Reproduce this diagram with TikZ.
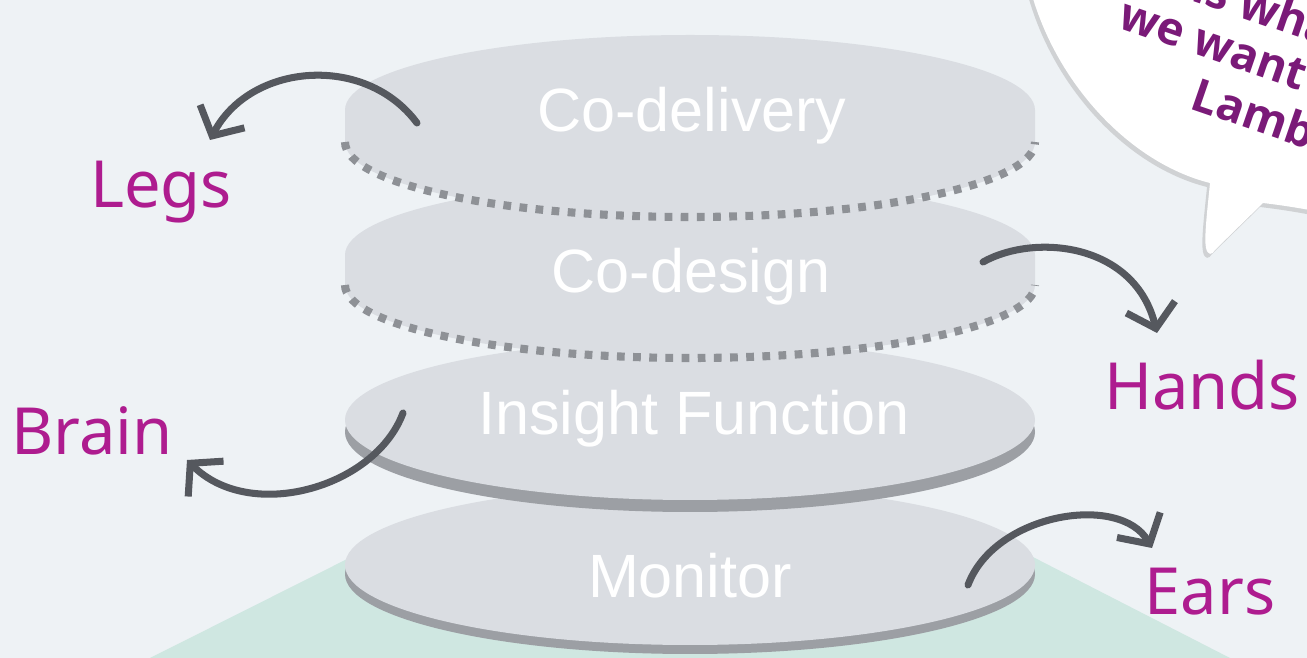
\documentclass[tikz,border=0pt]{standalone}
\usepackage{fontspec}
\setmainfont{Liberation Sans}
\newfontfamily\labelfont{Noto Sans}
\newfontfamily\bubblefont{Open Sans}
\usetikzlibrary{arrows.meta}
\definecolor{bgcol}{HTML}{EEF2F5}
\definecolor{diskcol}{HTML}{DADDE2}
\definecolor{rimcol}{HTML}{9C9FA4}
\definecolor{dotcol}{HTML}{8E9196}
\definecolor{tealcol}{HTML}{CFE7E1}
\definecolor{inkcol}{HTML}{55585E}
\definecolor{pinkcol}{HTML}{AE1C8F}
\definecolor{purplecol}{HTML}{7A1A78}

\begin{document}
\begin{tikzpicture}[
  disk/.style = {fill=diskcol},
  rimband/.style = {fill=rimcol},
  dotedge/.style = {draw=dotcol, line width=2.3pt, dash pattern=on 2.2pt off 2.4pt},
  disktext/.style = {text=white, font=\fontsize{17.4}{20}\selectfont, anchor=base},
  bodypart/.style = {text=pinkcol, font=\labelfont\fontsize{18.5}{22}\selectfont, anchor=base},
  sketch/.style = {draw=inkcol, line width=2pt, line cap=round, -{Straight Barb[length=2.2mm,width=5mm]}},
  quote/.style = {text=purplecol, font=\bubblefont\bfseries\fontsize{13}{15}\selectfont, anchor=base west, inner sep=0pt, rotate=-19}
]
\useasboundingbox (0,0) rectangle (13.07,6.58);
\clip (0,0) rectangle (13.07,6.58);
\fill[bgcol] (0,0) rectangle (13.07,6.58);

% base
\fill[tealcol] (1.50,0) -- (3.95,1.23) -- (9.90,1.23) -- (12.30,0) -- cycle;

% disks, bottom up
\fill[rimband] (6.90,0.84) ellipse (3.45 and 0.80);
\fill[disk] (6.90,0.93) ellipse (3.45 and 0.80);
\node[disktext] (monitor) at (6.90,0.60) {Monitor};

\fill[rimband] (6.90,2.26) ellipse (3.45 and 0.80);
\fill[disk] (6.90,2.38) ellipse (3.45 and 0.80);
\node[disktext] (insight) at (6.94,2.23) {Insight Function};

\fill[disk] (3.45,4.03) arc[start angle=180, end angle=0, x radius=3.45, y radius=0.75]
  -- (10.35,3.73) arc[start angle=0, end angle=-180, x radius=3.45, y radius=0.73] -- cycle;
\draw[dotedge] (3.45,3.73) arc[start angle=180, end angle=360, x radius=3.45, y radius=0.73];
\node[disktext] (design) at (6.91,3.65) {Co-design};

\fill[disk] (3.45,5.48) arc[start angle=180, end angle=0, x radius=3.45, y radius=0.75]
  -- (10.35,5.16) arc[start angle=0, end angle=-180, x radius=3.45, y radius=0.75] -- cycle;
\draw[dotedge] (3.45,5.16) arc[start angle=180, end angle=360, x radius=3.45, y radius=0.75];
\node[disktext] (delivery) at (6.92,5.26) {Co-delivery};

% body parts
\node[bodypart] (legs) at (1.61,4.50) {Legs};
\node[bodypart] (brain) at (0.92,2.03) {Brain};
\node[bodypart] (hands) at (12.02,2.48) {Hands};
\node[bodypart] (ears) at (12.10,0.43) {Ears};

\coordinate (legs from) at (4.17,5.35);
\coordinate (legs to) at (2.10,5.18);
\coordinate (hands from) at (9.83,3.96);
\coordinate (hands to) at (11.57,3.25);
\coordinate (brain from) at (4.03,2.45);
\coordinate (brain to) at (1.87,1.98);
\coordinate (ears from) at (9.68,0.73);
\coordinate (ears to) at (11.52,1.10);

\draw[sketch] (legs from) .. controls (3.65,6.05) and (2.50,5.95) .. (legs to);
\draw[sketch] (hands from) .. controls (10.35,4.25) and (11.35,4.15) .. (hands to);
\draw[sketch] (brain from) .. controls (3.75,1.70) and (2.50,1.35) .. (brain to);
\draw[sketch] (ears from) .. controls (9.95,1.45) and (11.20,1.65) .. (ears to);

% speech bubble
\begin{scope}[shift={(-0.03,-0.04)}]
\fill[black!40, opacity=0.35] (10.30,6.70) .. controls (10.55,5.75) and (11.30,4.95) .. (12.10,4.75)
  .. controls (12.07,4.45) and (12.04,4.20) .. (12.06,4.10)
  .. controls (12.08,4.02) and (12.12,4.03) .. (12.15,4.08)
  -- (12.63,4.55) .. controls (12.80,4.53) and (13.00,4.50) .. (13.20,4.46) -- (13.20,6.70) -- cycle;
\end{scope}
\fill[white] (10.30,6.70) .. controls (10.55,5.75) and (11.30,4.95) .. (12.10,4.75)
  .. controls (12.07,4.45) and (12.04,4.20) .. (12.06,4.10)
  .. controls (12.08,4.02) and (12.12,4.03) .. (12.15,4.08)
  -- (12.63,4.55) .. controls (12.80,4.53) and (13.00,4.50) .. (13.20,4.46) -- (13.20,6.70) -- cycle;
\node[quote] (line one) at (11.90,6.58) {is what};
\node[quote] (line two) at (11.16,6.31) {we want for};
\node[quote] (line three) at (11.88,5.50) {Lambeth};
\end{tikzpicture}
\end{document}
